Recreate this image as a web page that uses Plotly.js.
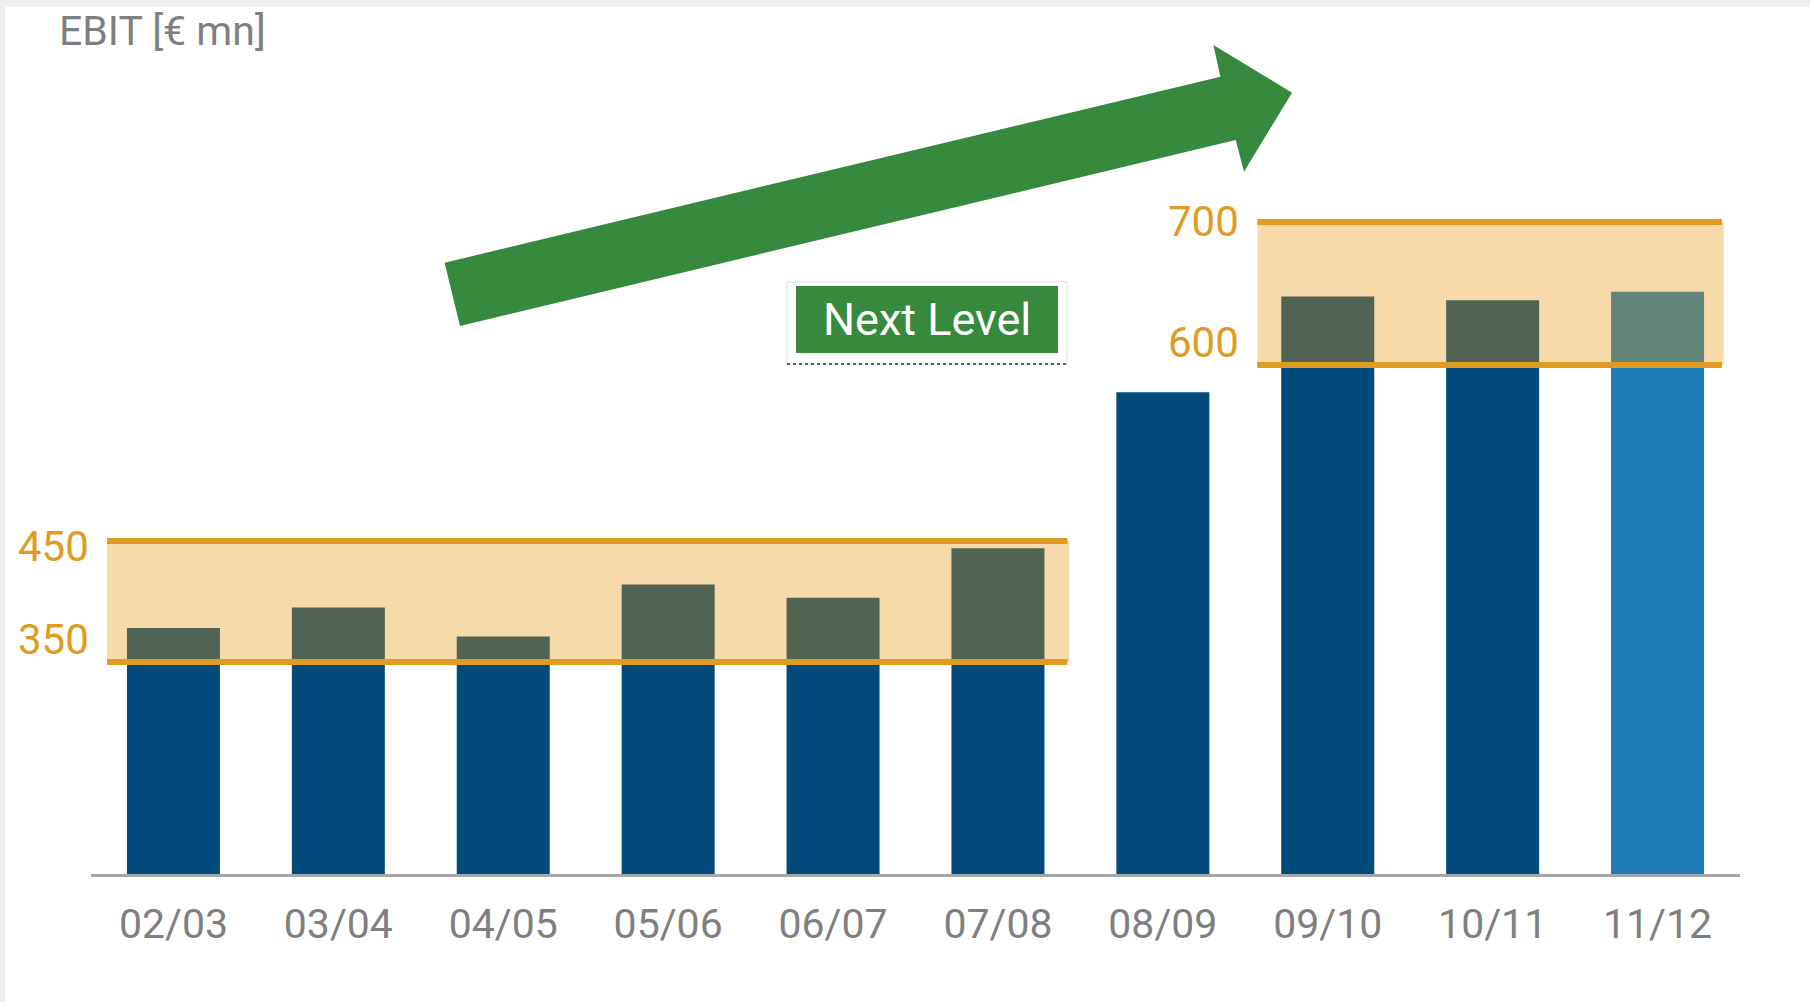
<!DOCTYPE html>
<html>
<head>
<meta charset="utf-8">
<script src="https://cdn.plot.ly/plotly-3.0.1.min.js"></script>
<style>html,body{margin:0;padding:0;background:#fff;}#chart{width:1810px;height:1002px;}</style>
</head>
<body>
<div id="chart"></div>
<script>
// ---- data ----
const categories = ['02/03','03/04','04/05','05/06','06/07','07/08','08/09','09/10','10/11','11/12'];
const ebit = [378, 395, 371, 414, 403, 444, 573, 652, 649, 656];
const bandLow = [350, 600];
const bandHigh = [450, 700];
const titleText = 'EBIT [€ mn]';
const calloutText = 'Next Level';

// ---- layout constants ----
const W = 1810, H = 1002;
const L = 91, R = 70, T = 0, B = 128;
const plotW = W - L - R, plotH = H - T - B;
const px2x = px => (px - L) / plotW;
const py2y = py => (H - B - py) / plotH;

const dark = '#024a7c', light = '#1f7db6';
const orange = '#df9b22';
const green = '#378a3d';
const grey = '#7f7f7f';
const barColors = categories.map((c, i) => i === categories.length - 1 ? light : dark);

// the schematic uses a different vertical scale for each band
const bandAxis = ['y', 'y2'];
const bandX = [[-0.403, 5.421], [6.573, 9.39]];
const labelShift = [[23, -5], [22, 0]]; // [low, high] vertical nudges

const shapes = [];
const annotations = [];

// light grey frame strips
shapes.push({type:'rect', xref:'paper', yref:'paper', x0:px2x(0), x1:px2x(W), y0:py2y(7), y1:py2y(0), fillcolor:'#efefef', line:{width:0}, layer:'below'});
shapes.push({type:'rect', xref:'paper', yref:'paper', x0:px2x(0), x1:px2x(5), y0:py2y(H), y1:py2y(0), fillcolor:'#efefef', line:{width:0}, layer:'below'});

bandLow.forEach((lo, i) => {
  const hi = bandHigh[i];
  const [x0, x1] = bandX[i];
  const yr = bandAxis[i];
  shapes.push({type:'rect', xref:'x', yref:yr, x0:x0, x1:x1 + 0.012, y0:lo, y1:hi, fillcolor:'rgba(228,150,10,0.35)', line:{width:0}, layer:'above'});
  [lo, hi].forEach(v => {
    shapes.push({type:'line', xref:'x', yref:yr, x0:x0, x1:x1, y0:v, y1:v, line:{color:orange, width:6}, layer:'above'});
  });
  [lo, hi].forEach((v, k) => {
    annotations.push({xref:'x', yref:yr, x:x0, y:v, xanchor:'right', yanchor:'middle', xshift:-16, yshift:labelShift[i][k],
      text:String(v), showarrow:false, font:{family:'Roboto', size:42, color:orange}});
  });
});

// big green arrow
const arrowPts = [[460,326],[444.6,262.7],[1220.4,76.7],[1213.4,45],[1292,92.7],[1244,171.7],[1235.7,140]];
const arrowPath = 'M ' + arrowPts.map(p => px2x(p[0]).toFixed(5) + ',' + py2y(p[1]).toFixed(5)).join(' L ') + ' Z';
shapes.push({type:'path', xref:'paper', yref:'paper', path:arrowPath, fillcolor:green, line:{width:0}, layer:'above'});

// callout box
shapes.push({type:'rect', xref:'paper', yref:'paper', x0:px2x(787), x1:px2x(1067), y0:py2y(364), y1:py2y(282), fillcolor:'#ffffff', line:{color:'rgba(215,215,215,0.8)', width:1}, layer:'above'});
shapes.push({type:'line', xref:'paper', yref:'paper', x0:px2x(787), x1:px2x(1067), y0:py2y(364), y1:py2y(364), line:{color:'#606060', width:2, dash:'dot'}, layer:'above'});
shapes.push({type:'rect', xref:'paper', yref:'paper', x0:px2x(796), x1:px2x(1058), y0:py2y(353), y1:py2y(286), fillcolor:green, line:{width:0}, layer:'above'});
annotations.push({xref:'paper', yref:'paper', x:px2x(927), y:py2y(319.5), xanchor:'center', yanchor:'middle', text:calloutText, showarrow:false, font:{family:'Roboto', size:45, color:'#ffffff'}});

// title
annotations.push({xref:'paper', yref:'paper', x:px2x(57), y:py2y(5), xanchor:'left', yanchor:'top', text:titleText, showarrow:false, font:{family:'Roboto', size:41, color:grey}});

const trace = {
  type:'bar', x:categories, y:ebit, marker:{color:barColors, line:{width:0}},
  hoverinfo:'x+y'
};

const layout = {
  width:W, height:H,
  margin:{l:L, r:R, t:T, b:B, pad:0},
  paper_bgcolor:'#ffffff', plot_bgcolor:'rgba(0,0,0,0)',
  bargap:0.436,
  showlegend:false,
  xaxis:{type:'category', range:[-0.5, 9.5], showline:true, linecolor:'#a6a6a6', linewidth:2.5, showgrid:false, zeroline:false,
    ticks:'', tickfont:{family:'Roboto', size:41, color:grey}, ticklabelstandoff:12, fixedrange:true},
  yaxis:{visible:false, range:[174.8, 897.1], showgrid:false, zeroline:false, fixedrange:true},
  yaxis2:{visible:false, overlaying:'y', range:[244.1, 855.2], showgrid:false, zeroline:false, fixedrange:true},
  shapes:shapes,
  annotations:annotations
};

Plotly.newPlot('chart', [trace], layout, {displayModeBar:false, staticPlot:true});
</script>
</body>
</html>
